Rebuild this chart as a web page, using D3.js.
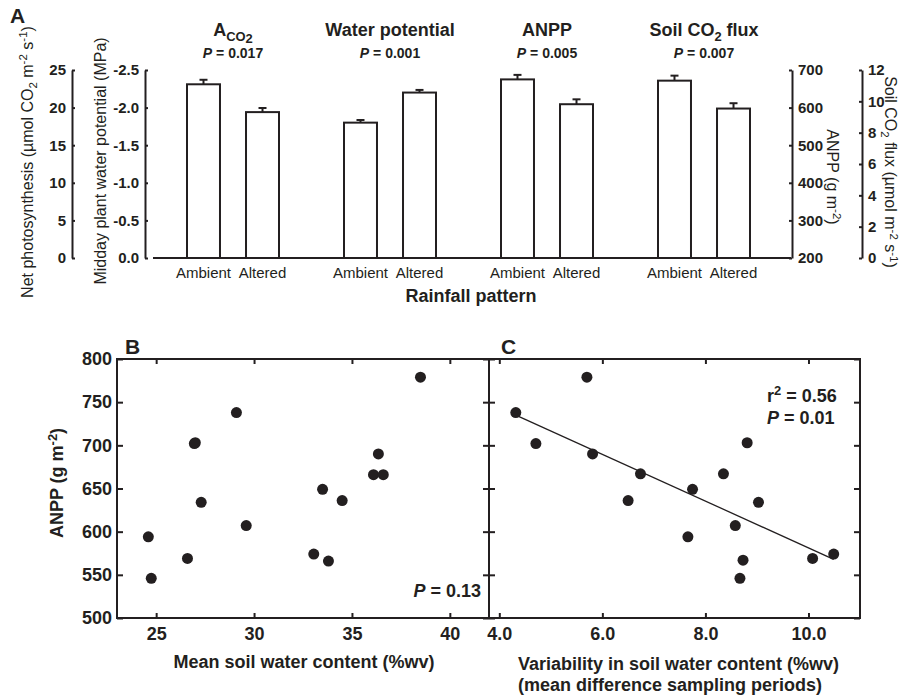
<!DOCTYPE html>
<html>
<head>
<meta charset="utf-8">
<script src="https://cdn.jsdelivr.net/npm/d3@7"></script>
<style>
  body { margin: 0; background: #fff; }
  svg { font-family: "Liberation Sans", Arial, sans-serif; }
</style>
</head>
<body>
<script>
// ---- data ----
var groups = ["aco2", "psi", "anpp", "flux"];
var treatments = ["Ambient", "Altered"];
var pValues = ["0.017", "0.001", "0.005", "0.007"];

var aco2Mean = [23.1, 19.4];
var aco2SE   = [0.6, 0.55];
var psiMean  = [-1.80, -2.20];
var psiSE    = [0.035, 0.035];
var anppMean = [675, 609];
var anppSE   = [12, 13];
var fluxMean = [11.32, 9.54];
var fluxSE   = [0.32, 0.34];

var aco2Ticks = [0, 5, 10, 15, 20, 25];
var psiTicks  = [0, -0.5, -1.0, -1.5, -2.0, -2.5];
var anppTicks = [200, 300, 400, 500, 600, 700];
var fluxTicks = [0, 2, 4, 6, 8, 10, 12];

// panel B: mean soil water content vs ANPP
var swcMean = [24.6, 24.75, 26.6, 27.0, 26.95, 27.3, 29.1, 29.6, 33.05, 33.8, 33.5, 34.5, 36.1, 36.6, 36.35, 38.5];
var anppB   = [594, 546, 569, 703, 702, 634, 738, 607, 574, 566, 649, 636, 666, 666, 690, 779];

// panel C: variability in soil water content vs ANPP
var swcVar = [4.32, 5.70, 4.71, 5.81, 6.74, 6.50, 7.75, 7.66, 8.35, 8.81, 9.03, 8.58, 8.73, 8.67, 10.08, 10.49];
var anppC  = [738, 779, 702, 690, 667, 636, 649, 594, 667, 703, 634, 607, 567, 546, 569, 574];
var fitC   = [[4.32, 735], [10.49, 568]];

var bTicks = [25, 30, 35, 40];
var cTicks = [4, 6, 8, 10];
var yTicksBC = [500, 550, 600, 650, 700, 750, 800];

var ink = "#231f20";

var svg = d3.select("body").append("svg").attr("width", 904).attr("height", 700);

// text with sub/superscripts: parts = [[text, shift]] shift>0 = down
function rich(sel, parts, size) {
  var cur = 0;
  parts.forEach(function(p) {
    var t = sel.append("tspan").text(p[0]).attr("dy", p[1] - cur);
    if (p[1] !== 0) t.attr("font-size", size * 0.72);
    if (p[2]) t.attr("font-style", "italic");
    cur = p[1];
  });
  return sel;
}

function styleAxis(g, size, weight) {
  g.selectAll("line").attr("stroke", ink).attr("stroke-width", 2);
  g.selectAll(".domain").attr("stroke", ink).attr("stroke-width", 2);
  g.selectAll("text").attr("font-size", size).attr("font-weight", weight)
    .attr("fill", ink).attr("font-family", null);
}

// ================= panel A =================
var yTop = 70, yBase = 258;
var yAco2 = d3.scaleLinear().domain([0, 25]).range([yBase, yTop]);
var yPsi  = d3.scaleLinear().domain([0, -2.5]).range([yBase, yTop]);
var yAnpp = d3.scaleLinear().domain([200, 700]).range([yBase, yTop]);
var yFlux = d3.scaleLinear().domain([0, 12]).range([yBase, yTop]);

var xGroup = d3.scalePoint().domain(groups).range([233, 704]);
var xTreat = d3.scaleBand().domain(treatments).range([-46, 46]).paddingInner(0.441);

var fmt1 = function(d) { return d.toFixed(1); };

var ax;
ax = svg.append("g").attr("transform", "translate(72,0)")
  .call(d3.axisLeft(yAco2).tickValues(aco2Ticks).tickSizeInner(-3).tickSizeOuter(0).tickPadding(6));
styleAxis(ax, 15, "bold");
ax = svg.append("g").attr("transform", "translate(145,0)")
  .call(d3.axisLeft(yPsi).tickValues(psiTicks).tickFormat(fmt1).tickSizeInner(-3).tickSizeOuter(0).tickPadding(6));
styleAxis(ax, 15, "bold");
ax = svg.append("g").attr("transform", "translate(792,0)")
  .call(d3.axisRight(yAnpp).tickValues(anppTicks).tickSizeInner(-3).tickSizeOuter(0).tickPadding(6));
styleAxis(ax, 15, "bold");
ax = svg.append("g").attr("transform", "translate(862,0)")
  .call(d3.axisRight(yFlux).tickValues(fluxTicks).tickSizeInner(-3).tickSizeOuter(0).tickPadding(6));
styleAxis(ax, 15, "bold");

// baseline
svg.append("line").attr("x1", 153).attr("x2", 791).attr("y1", yBase).attr("y2", yBase)
  .attr("stroke", ink).attr("stroke-width", 2);

var barSets = [
  { key: "aco2", mean: aco2Mean, se: aco2SE, y: yAco2 },
  { key: "psi",  mean: psiMean,  se: psiSE,  y: yPsi },
  { key: "anpp", mean: anppMean, se: anppSE, y: yAnpp },
  { key: "flux", mean: fluxMean, se: fluxSE, y: yFlux }
];

barSets.forEach(function(s) {
  var g = svg.append("g").attr("transform", "translate(" + xGroup(s.key) + ",0)");
  var sign = s.key === "psi" ? -1 : 1;
  treatments.forEach(function(t, i) {
    var x0 = xTreat(t), w = xTreat.bandwidth(), cx = x0 + w / 2;
    var top = s.y(s.mean[i]);
    var cap = s.y(s.mean[i] + sign * s.se[i]);
    g.append("line").attr("x1", cx).attr("x2", cx).attr("y1", top).attr("y2", cap)
      .attr("stroke", ink).attr("stroke-width", 2);
    g.append("line").attr("x1", cx - 4).attr("x2", cx + 4).attr("y1", cap).attr("y2", cap)
      .attr("stroke", ink).attr("stroke-width", 2);
    g.append("rect").attr("x", x0).attr("y", top).attr("width", w).attr("height", yBase - top)
      .attr("fill", "#fff").attr("stroke", ink).attr("stroke-width", 2);
    g.append("text").attr("x", cx).attr("y", 278).attr("text-anchor", "middle")
      .attr("font-size", 15).attr("fill", ink).text(t);
  });
});

// titles
var titleParts = [
  [["A", 0], ["CO", 5], ["2", 7]],
  [["Water potential", 0]],
  [["ANPP", 0]],
  [["Soil CO", 0], ["2", 5], [" flux", 0]]
];
groups.forEach(function(k, i) {
  rich(svg.append("text").attr("x", xGroup(k)).attr("y", 36).attr("text-anchor", "middle")
    .attr("font-size", 18).attr("font-weight", "bold").attr("fill", ink), titleParts[i], 18);
  rich(svg.append("text").attr("x", xGroup(k)).attr("y", 58).attr("text-anchor", "middle")
    .attr("font-size", 14).attr("font-weight", "bold").attr("fill", ink),
    [["P", 0, true], [" = " + pValues[i], 0]], 14);
});

svg.append("text").attr("x", 471).attr("y", 302).attr("text-anchor", "middle")
  .attr("font-size", 18).attr("font-weight", "bold").attr("fill", ink).text("Rainfall pattern");

rich(svg.append("text").attr("transform", "translate(33,162) rotate(-90)").attr("text-anchor", "middle")
  .attr("font-size", 16).attr("fill", ink),
  [["Net photosynthesis (\u00b5mol CO", 0], ["2", 4], [" m", 0], ["-2", -6], [" s", 0], ["-1", -6], [")", 0]], 16);
svg.append("text").attr("transform", "translate(106,161) rotate(-90)").attr("text-anchor", "middle")
  .attr("font-size", 16).attr("fill", ink).text("Midday plant water potential (MPa)");
rich(svg.append("text").attr("transform", "translate(827,177) rotate(90)").attr("text-anchor", "middle")
  .attr("font-size", 16).attr("fill", ink),
  [["ANPP (g m", 0], ["-2", -6], [")", 0]], 16);
rich(svg.append("text").attr("transform", "translate(885,172) rotate(90)").attr("text-anchor", "middle")
  .attr("font-size", 16).attr("fill", ink),
  [["Soil CO", 0], ["2", 4], [" flux (\u00b5mol m", 0], ["-2", -5], [" s", 0], ["-1", -5], [")", 0]], 16);

svg.append("text").attr("x", 10).attr("y", 23).attr("font-size", 21).attr("font-weight", "bold")
  .attr("fill", ink).text("A");

// ================= panels B and C =================
var top2 = 359, bot2 = 618;
var yBC = d3.scaleLinear().domain([500, 800]).range([bot2, top2]);
var xB = d3.scaleLinear().domain([23, 42]).range([117, 489]);
var xC = d3.scaleLinear().domain([3.8, 11.0]).range([489, 860]);

function panelAxes(x, ticks, fmt, showY) {
  var a;
  a = svg.append("g").attr("transform", "translate(0," + bot2 + ")")
    .call(d3.axisBottom(x).tickValues(ticks).tickFormat(fmt).tickSizeInner(-5).tickSizeOuter(0).tickPadding(9));
  a.select(".domain").remove(); styleAxis(a, 18, "bold");
  a = svg.append("g").attr("transform", "translate(0," + top2 + ")")
    .call(d3.axisTop(x).tickValues(ticks).tickFormat("").tickSizeInner(-5).tickSizeOuter(0));
  a.select(".domain").remove(); styleAxis(a, 18, "bold");
  var x0 = x.range()[0], x1 = x.range()[1];
  a = svg.append("g").attr("transform", "translate(" + x0 + ",0)")
    .call(d3.axisLeft(yBC).tickValues(yTicksBC).tickFormat(showY ? null : "").tickSizeInner(-6).tickSizeOuter(0).tickPadding(5));
  a.select(".domain").remove(); styleAxis(a, 18, "bold");
  a = svg.append("g").attr("transform", "translate(" + x1 + ",0)")
    .call(d3.axisRight(yBC).tickValues(yTicksBC).tickFormat("").tickSizeInner(-6).tickSizeOuter(0));
  a.select(".domain").remove(); styleAxis(a, 18, "bold");
  svg.append("rect").attr("x", x0).attr("y", top2).attr("width", x1 - x0).attr("height", bot2 - top2)
    .attr("fill", "none").attr("stroke", ink).attr("stroke-width", 2);
}

panelAxes(xB, bTicks, d3.format("d"), true);
panelAxes(xC, cTicks, d3.format(".1f"), false);

svg.append("g").selectAll("circle").data(d3.range(swcMean.length)).enter().append("circle")
  .attr("cx", function(i) { return xB(swcMean[i]); })
  .attr("cy", function(i) { return yBC(anppB[i]); })
  .attr("r", 5.5).attr("fill", ink);

svg.append("line")
  .attr("x1", xC(fitC[0][0])).attr("y1", yBC(fitC[0][1]))
  .attr("x2", xC(fitC[1][0])).attr("y2", yBC(fitC[1][1]))
  .attr("stroke", ink).attr("stroke-width", 1.3);

svg.append("g").selectAll("circle").data(d3.range(swcVar.length)).enter().append("circle")
  .attr("cx", function(i) { return xC(swcVar[i]); })
  .attr("cy", function(i) { return yBC(anppC[i]); })
  .attr("r", 5.5).attr("fill", ink);

svg.append("text").attr("x", 125).attr("y", 354).attr("font-size", 21).attr("font-weight", "bold")
  .attr("fill", ink).text("B");
svg.append("text").attr("x", 501).attr("y", 354).attr("font-size", 21).attr("font-weight", "bold")
  .attr("fill", ink).text("C");

rich(svg.append("text").attr("x", 481).attr("y", 597).attr("text-anchor", "end")
  .attr("font-size", 18).attr("font-weight", "bold").attr("fill", ink),
  [["P", 0, true], [" = 0.13", 0]], 18);
rich(svg.append("text").attr("x", 767).attr("y", 402)
  .attr("font-size", 18).attr("font-weight", "bold").attr("fill", ink),
  [["r", 0], ["2", -7], [" = 0.56", 0]], 18);
rich(svg.append("text").attr("x", 767).attr("y", 424)
  .attr("font-size", 18).attr("font-weight", "bold").attr("fill", ink),
  [["P", 0, true], [" = 0.01", 0]], 18);

rich(svg.append("text").attr("transform", "translate(63,483) rotate(-90)").attr("text-anchor", "middle")
  .attr("font-size", 18).attr("font-weight", "bold").attr("fill", ink),
  [["ANPP (g m", 0], ["-2", -6], [")", 0]], 18);

svg.append("text").attr("x", 304).attr("y", 668).attr("text-anchor", "middle")
  .attr("font-size", 18).attr("font-weight", "bold").attr("fill", ink).text("Mean soil water content (%wv)");
svg.append("text").attr("x", 518).attr("y", 670)
  .attr("font-size", 18).attr("font-weight", "bold").attr("fill", ink).text("Variability in soil water content (%wv)");
svg.append("text").attr("x", 518).attr("y", 691)
  .attr("font-size", 18).attr("font-weight", "bold").attr("fill", ink).text("(mean difference sampling periods)");
</script>
</body>
</html>
